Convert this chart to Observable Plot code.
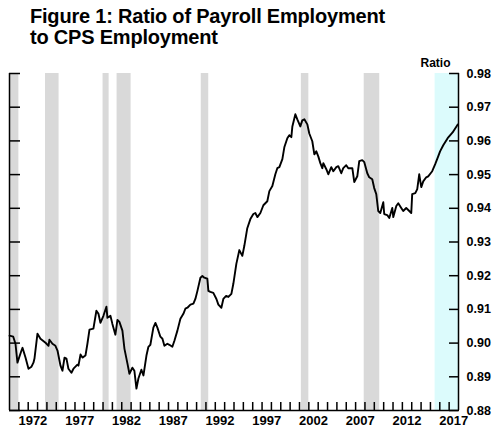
<!DOCTYPE html>
<html>
<head>
<meta charset="utf-8">
<script src="https://cdn.jsdelivr.net/npm/d3@7"></script>
<script src="https://cdn.jsdelivr.net/npm/@observablehq/plot@0.6"></script>
<style>
  html, body { margin: 0; padding: 0; background: #fff; }
  #wrap { width: 498px; height: 433px; position: relative; font-family: "Liberation Sans", Arial, sans-serif; }
  #title { height: 52px; box-sizing: border-box; padding: 6px 0 0 30px; font-weight: bold; font-size: 20px; line-height: 21px; color: #000; letter-spacing: -0.2px; }
  svg { display: block; }
</style>
</head>
<body>
<div id="wrap">
  <div id="title">Figure 1: Ratio of Payroll Employment<br>to CPS Employment</div>
  <div id="chart"></div>
</div>
<script>
// Time (decimal year) and ratio of payroll to CPS employment
const years = [
  1970.0, 1970.40, 1970.64, 1970.85, 1971.28, 1971.39, 1971.71, 1972.03, 1972.35, 1972.56, 1972.67, 1972.99,
  1973.31, 1973.85, 1974.17, 1974.27, 1974.59, 1974.91, 1975.13, 1975.45, 1975.66, 1975.88, 1976.09, 1976.30,
  1976.62, 1976.84, 1977.26, 1977.37, 1977.59, 1977.80, 1978.12, 1978.33, 1978.55, 1978.97, 1979.29, 1979.51,
  1979.72, 1980.04, 1980.36, 1980.47, 1980.79, 1981.00, 1981.32, 1981.54, 1981.75, 1982.07, 1982.29, 1982.61,
  1982.82, 1983.14, 1983.35, 1983.57, 1983.78, 1984.10, 1984.32, 1984.64, 1984.85, 1985.06, 1985.38, 1985.60,
  1985.81, 1986.13, 1986.35, 1986.56, 1986.88, 1987.09, 1987.41, 1987.63, 1987.95, 1988.27, 1988.59, 1988.80,
  1989.02, 1989.34, 1989.66, 1989.87, 1990.09, 1990.41, 1990.62, 1990.83, 1991.15, 1991.26, 1991.47, 1991.79,
  1992.12, 1992.33, 1992.65, 1992.86, 1993.16, 1993.40, 1993.72, 1993.93, 1994.25, 1994.57, 1994.89, 1995.10,
  1995.42, 1995.75, 1996.07, 1996.28, 1996.50, 1996.82, 1997.14, 1997.56, 1997.78, 1998.10, 1998.42, 1998.63,
  1998.85, 1999.17, 1999.38, 1999.70, 1999.91, 2000.13, 2000.24, 2000.56, 2000.77, 2001.09, 2001.30, 2001.52,
  2001.84, 2002.05, 2002.37, 2002.59, 2002.80, 2003.01, 2003.23, 2003.44, 2003.55, 2003.87, 2004.08, 2004.40,
  2004.62, 2004.94, 2005.15, 2005.47, 2005.68, 2006.00, 2006.22, 2006.65, 2006.86, 2007.18, 2007.39, 2007.71,
  2007.93, 2008.25, 2008.46, 2008.78, 2008.99, 2009.21, 2009.42, 2009.64, 2009.96, 2010.06, 2010.38, 2010.60,
  2010.92, 2011.03, 2011.35, 2011.56, 2011.88, 2012.09, 2012.41, 2012.63, 2012.95, 2013.05, 2013.38, 2013.59,
  2013.80, 2014.02, 2014.23, 2014.55, 2014.76, 2015.19, 2015.51, 2015.83, 2016.03, 2016.37, 2016.84, 2017.37,
  2017.92
];
const ratio = [
  0.9022, 0.9019, 0.8998, 0.8942, 0.8978, 0.8986, 0.8957, 0.8924, 0.8930, 0.8942, 0.8954, 0.9028,
  0.9013, 0.9001, 0.8992, 0.9010, 0.8998, 0.8992, 0.8978, 0.8933, 0.8918, 0.8957, 0.8954, 0.8924,
  0.8912, 0.8924, 0.8936, 0.8933, 0.8966, 0.8957, 0.8963, 0.8998, 0.9040, 0.9043, 0.9096, 0.9087,
  0.9060, 0.9081, 0.9108, 0.9075, 0.9081, 0.9057, 0.9025, 0.9069, 0.9063, 0.9037, 0.8983, 0.8939,
  0.8909, 0.8927, 0.8918, 0.8865, 0.8895, 0.8921, 0.8904, 0.8963, 0.8989, 0.8995, 0.9046, 0.9060,
  0.9046, 0.9019, 0.9013, 0.8992, 0.8998, 0.8995, 0.8989, 0.9007, 0.9037, 0.9072, 0.9087, 0.9102,
  0.9105, 0.9114, 0.9117, 0.9131, 0.9155, 0.9194, 0.9199, 0.9194, 0.9191, 0.9155, 0.9152, 0.9149,
  0.9131, 0.9114, 0.9105, 0.9131, 0.9140, 0.9137, 0.9146, 0.9176, 0.9235, 0.9276, 0.9259, 0.9288,
  0.9341, 0.9368, 0.9383, 0.9386, 0.9374, 0.9386, 0.9409, 0.9421, 0.9451, 0.9466, 0.9501, 0.9519,
  0.9522, 0.9546, 0.9581, 0.9608, 0.9617, 0.9611, 0.9643, 0.9679, 0.9664, 0.9643, 0.9661, 0.9664,
  0.9649, 0.9622, 0.9599, 0.9560, 0.9569, 0.9554, 0.9534, 0.9519, 0.9534, 0.9516, 0.9501, 0.9522,
  0.9510, 0.9522, 0.9525, 0.9504, 0.9519, 0.9528, 0.9519, 0.9519, 0.9478, 0.9495, 0.9540, 0.9543,
  0.9537, 0.9504, 0.9492, 0.9486, 0.9460, 0.9442, 0.9392, 0.9386, 0.9418, 0.9383, 0.9380, 0.9371,
  0.9401, 0.9374, 0.9407, 0.9415, 0.9401, 0.9392, 0.9401, 0.9395, 0.9386, 0.9442, 0.9445, 0.9457,
  0.9501, 0.9463, 0.9480, 0.9492, 0.9495, 0.9510, 0.9531, 0.9554, 0.9569, 0.9587, 0.9608, 0.9625,
  0.9649
];
// Recession periods (decimal years)
const recessionStart = [1970.0, 1973.85, 1980.0, 1981.5, 1990.5, 2001.2, 2007.92];
const recessionEnd   = [1971.0, 1975.3, 1980.65, 1983.0, 1991.3, 2002.0, 2009.58];
// Highlighted recent period
const highlightStart = [2015.5];
const highlightEnd = [2018.0];
// Axis settings
const xDomain = [1970, 2018];
const yDomain = [0.88, 0.98];
const yearTicks = d3.range(1971, 2018);
const labelYears = [1972, 1977, 1982, 1987, 1992, 1997, 2002, 2007, 2012, 2017];
const yTicks = [0.88, 0.89, 0.90, 0.91, 0.92, 0.93, 0.94, 0.95, 0.96, 0.97, 0.98];
const yLabel = "Ratio";

const series = years.map((t, i) => ({t, v: ratio[i]}));
const recessions = recessionStart.map((s, i) => ({s, e: recessionEnd[i]}));
const highlight = highlightStart.map((s, i) => ({s, e: highlightEnd[i]}));
const labelPos = labelYears.map(y => y + 0.5);

const chart = Plot.plot({
  width: 498,
  height: 381,
  marginTop: 21,
  marginBottom: 23,
  marginLeft: 9,
  marginRight: 40,
  style: {fontFamily: "Liberation Sans, Arial, sans-serif", background: "#fff", color: "#000"},
  x: {domain: xDomain, axis: null},
  y: {domain: yDomain, axis: null},
  marks: [
    Plot.rectX(highlight, {x1: "s", x2: "e", fill: "#dcfbfc"}),
    Plot.rectX(recessions, {x1: "s", x2: "e", fill: "#d9d9d9"}),
    Plot.ruleX([xDomain[0]], {stroke: "#000", strokeWidth: 1.5}),
    Plot.ruleX([xDomain[1]], {stroke: "#000", strokeWidth: 1.5}),
    Plot.ruleY([yDomain[0]], {stroke: "#000", strokeWidth: 1.5}),
    Plot.axisY({anchor: "left", label: null, ticks: yTicks, tickSize: -11, tickFormat: () => "", strokeWidth: 1.5}),
    Plot.axisY({anchor: "right", label: null, ticks: yTicks, tickSize: -10, tickPadding: 18, tickFormat: d3.format(".2f"),
      fontSize: 12.5, fontWeight: "bold", textAnchor: "start", strokeWidth: 1.5}),
    Plot.axisX({anchor: "bottom", label: null, ticks: yearTicks, tickSize: -8, tickFormat: () => "", strokeWidth: 1.5}),
    Plot.axisX({anchor: "bottom", label: null, ticks: labelPos, tickSize: 0, tickPadding: 5,
      tickFormat: d => String(Math.floor(d)), fontSize: 13, fontWeight: "bold"}),
    Plot.text([yLabel], {frameAnchor: "top-right", textAnchor: "end", lineAnchor: "bottom", dx: -8, dy: -7,
      fontSize: 12, fontWeight: "bold"}),
    Plot.line(series, {x: "t", y: "v", stroke: "#000", strokeWidth: 1.9})
  ]
});
document.getElementById("chart").appendChild(chart);
</script>
</body>
</html>
